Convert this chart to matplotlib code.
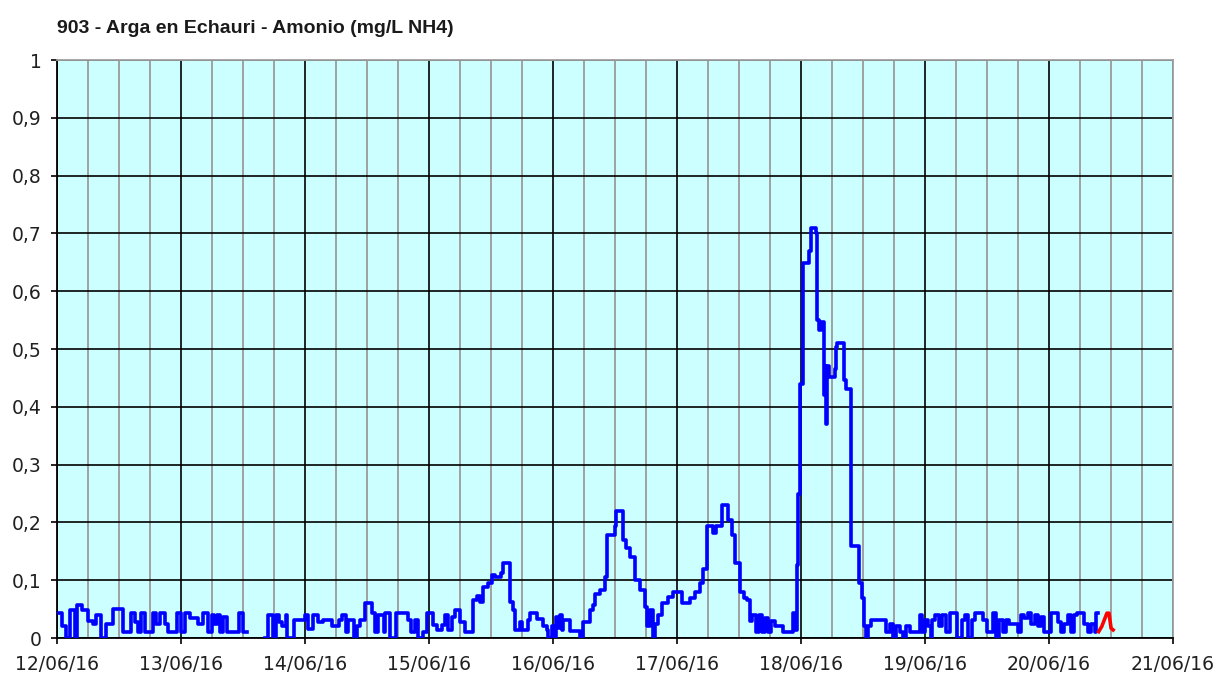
import numpy as np
import pandas as pd
import matplotlib
matplotlib.use('Agg')
import matplotlib.pyplot as plt
import matplotlib.dates as mdates
from matplotlib.ticker import FuncFormatter, MultipleLocator

# serie de amonio (horas desde el 12/06/16 00:00, mg/L NH4)
start = pd.Timestamp('2016-06-12')

hours = [
    # 12/06
    0.0, 0.9, 1.7, 2.5, 3.4, 3.8, 4.8, 6.0, 7.0, 7.5, 8.6, 9.4, 10.8, 12.8, 14.3, 15.0,
    15.6, 16.2, 17.0, 18.0, 18.6, 19.2, 20.0, 20.8, 21.5, 22.5, 23.2,
    # 13/06
    24.0, 24.8, 25.7, 27.3, 28.3, 29.3, 29.9, 30.4, 30.9, 31.5, 32.1, 32.8, 35.3, 35.9,
    36.8, 40.3, 40.9, 41.8, 42.3, 43.0, 43.6, 44.3, 44.6, 45.9,
    # 14/06
    48.0, 48.6, 49.6, 50.6, 51.5, 53.2, 54.6, 55.1, 56.0, 56.4, 57.5, 58.0, 58.6, 59.6,
    60.9, 61.5, 62.2, 63.2, 63.5, 64.4, 65.7, 68.0, 68.6, 69.3, 69.9, 70.9, 71.6,
    # 15/06
    72.8, 73.5, 74.6, 75.1, 75.7, 76.4, 77.0, 78.0, 79.0, 80.6, 81.2, 81.9, 82.5, 83.5,
    84.1, 84.8, 86.0, 86.4, 87.7, 88.3, 88.7, 89.6, 89.9, 91.2, 91.5, 92.8, 94.1, 94.8,
    95.1, 95.7, 96.2,
    # 16/06
    96.5, 97.0, 97.4, 97.7, 98.0, 99.3, 101.2, 101.8, 103.1, 103.8, 104.1, 105.1, 106.0,
    106.4, 107.9, 108.1, 109.6, 110.2, 110.9, 111.8, 112.8, 113.8, 114.1, 114.8, 115.4,
    115.7, 116.4, 117.0, 118.3, 119.3,
    # 17/06
    121.0, 122.6, 123.5, 124.4, 125.0, 125.8, 127.0, 127.5, 128.7, 129.9, 130.6, 131.2,
    132.2, 133.0, 133.5, 134.1, 134.6, 135.2, 135.8, 136.4, 137.0, 137.6, 138.2, 139.0,
    139.8, 140.6, 141.6, 142.4, 142.8,
    # 18/06
    143.2, 143.5, 143.8, 144.3, 145.6, 145.9, 146.8, 147.1, 147.5, 147.9, 148.4, 148.6,
    148.8, 149.0, 149.4, 150.5, 150.8, 151.0, 152.3, 152.7, 153.7, 155.2, 155.8, 156.2,
    156.6, 157.0, 157.5, 160.5, 161.2, 161.8, 162.4, 163.1, 163.7, 164.4, 165.0, 167.0,
    167.5,
    # 19/06
    168.0, 168.5, 169.1, 169.4, 170.0, 170.7, 171.3, 172.0, 172.9, 174.2, 175.1, 175.7,
    176.4, 177.0, 177.6, 179.2, 179.9, 181.1, 181.8, 182.4, 183.1, 183.7, 184.3, 185.9,
    186.6, 187.2, 187.9, 188.5, 189.2, 189.8, 190.5, 191.1,
    # 20/06
    192.4, 193.7, 194.3, 194.9, 195.6, 196.2, 196.9, 197.5, 198.8, 199.5, 200.1, 200.8,
    201.1, 201.5,
]

nan = float('nan')
nh4 = [
    # 12/06
    0.043, 0.02, 0.0, 0.048, 0.0, 0.057, 0.048, 0.03, 0.025, 0.04, 0.0, 0.025, 0.05, 0.011,
    0.043, 0.028, 0.011, 0.043, 0.011, 0.011, 0.043, 0.025, 0.043, 0.025, 0.011, 0.011, 0.043,
    # 13/06
    0.011, 0.043, 0.034, 0.025, 0.043, 0.011, 0.04, 0.025, 0.04, 0.011, 0.037, 0.011, 0.043,
    0.011, nan, 0.0, 0.04, 0.0, 0.04, 0.028, 0.02, 0.04, 0.0, 0.031,
    # 14/06
    0.04, 0.015, 0.04, 0.028, 0.031, 0.02, 0.031, 0.04, 0.011, 0.031, 0.0, 0.02, 0.031, 0.06,
    0.043, 0.011, 0.04, 0.011, 0.043, 0.0, 0.043, 0.031, 0.011, 0.031, 0.0, 0.011, 0.043,
    # 15/06
    0.023, 0.014, 0.023, 0.04, 0.014, 0.037, 0.048, 0.028, 0.011, 0.066, 0.072, 0.063, 0.088,
    0.095, 0.109, 0.106, 0.112, 0.13, 0.063, 0.048, 0.014, 0.028, 0.014, 0.031, 0.043, 0.033,
    0.02, 0.014, 0.0, 0.02, 0.0,
    # 16/06
    0.037, 0.017, 0.04, 0.014, 0.031, 0.012, 0.0, 0.028, 0.048, 0.057, 0.077, 0.083, 0.106,
    0.178, 0.193, 0.219, 0.17, 0.155, 0.14, 0.1, 0.083, 0.054, 0.02, 0.048, 0.0, 0.025, 0.04,
    0.06, 0.071, 0.08,
    # 17/06
    0.06, 0.07, 0.08, 0.095, 0.12, 0.193, 0.181, 0.193, 0.23, 0.204, 0.178, 0.129, 0.08,
    0.07, 0.065, 0.03, 0.04, 0.011, 0.04, 0.011, 0.035, 0.011, 0.03, 0.02, 0.02, 0.011,
    0.011, 0.043, 0.014,
    # 18/06
    0.126, 0.25, 0.44, 0.648, 0.67, 0.709, 0.7, 0.55, 0.533, 0.547, 0.42, 0.47, 0.37, 0.47,
    0.452, 0.465, 0.504, 0.51, 0.446, 0.43, 0.16, 0.095, 0.07, 0.02, 0.0, 0.02, 0.031,
    0.011, 0.025, 0.0, 0.02, 0.011, 0.0, 0.02, 0.011, 0.04, 0.011,
    # 19/06
    0.031, 0.02, 0.0, 0.031, 0.04, 0.02, 0.04, 0.011, 0.043, 0.0, 0.031, 0.04, 0.0, 0.031,
    0.043, 0.031, 0.011, 0.043, 0.0, 0.031, 0.011, 0.031, 0.025, 0.011, 0.04, 0.034, 0.043,
    0.025, 0.04, 0.02, 0.037, 0.011,
    # 20/06
    0.043, 0.028, 0.011, 0.025, 0.04, 0.011, 0.04, 0.043, 0.025, 0.011, 0.025, 0.011,
    0.043, 0.043,
]

# datos no validados (rojo)
red_hours = [201.6, 202.2, 203.2, 203.6, 204.0, 204.4]
red_nh4 = [0.011, 0.02, 0.043, 0.043, 0.017, 0.014]

t = start + pd.to_timedelta(hours, unit='h')
t_red = start + pd.to_timedelta(red_hours, unit='h')

fig = plt.figure(figsize=(12.16, 6.73), dpi=100)
ax = fig.add_axes([0.0469, 0.052, 0.9178, 0.8588])
ax.set_facecolor('#ccffff')

ax.plot(t, nh4, color='#0000ff', lw=2.6, drawstyle='steps-post', zorder=3)
ax.plot(t_red, red_nh4, color='#ff0000', lw=2.6, zorder=3)

ax.set_xlim(start, start + pd.Timedelta(days=9))
ax.set_ylim(0, 1)

ax.xaxis.set_major_locator(mdates.DayLocator())
ax.xaxis.set_minor_locator(mdates.HourLocator(byhour=[6, 12, 18]))
ax.xaxis.set_major_formatter(mdates.DateFormatter('%d/%m/%y'))
ax.yaxis.set_major_locator(MultipleLocator(0.1))


def fmt(v, pos):
    if abs(v) < 1e-9:
        return '0'
    if abs(v - 1) < 1e-9:
        return '1'
    return f'{v:.1f}'.replace('.', ',')


ax.yaxis.set_major_formatter(FuncFormatter(fmt))

ax.grid(which='major', axis='both', color='black', lw=1.2, zorder=1)
ax.grid(which='minor', axis='x', color='#a0a0a0', lw=1.4, zorder=0)
ax.set_axisbelow(True)

ax.tick_params(axis='both', which='major', length=4, width=1.2, color='black',
               labelsize=13.5, labelcolor='#202020')
ax.tick_params(axis='x', which='major', pad=8)
ax.tick_params(axis='y', which='major', pad=7)
ax.tick_params(axis='x', which='minor', length=0)

for s in ['left', 'bottom']:
    ax.spines[s].set_color('black')
    ax.spines[s].set_linewidth(1.3)
for s in ['top', 'right']:
    ax.spines[s].set_color('#a0a0a0')
    ax.spines[s].set_linewidth(1.3)

fig.text(0.0469, 0.958, '903 - Arga en Echauri - Amonio (mg/L NH4)',
         family=['Liberation Sans', 'DejaVu Sans'],
         fontsize=14, fontweight='bold', color='#1a1a1a', va='center', ha='left')

fig.savefig('out.png', dpi=100)
